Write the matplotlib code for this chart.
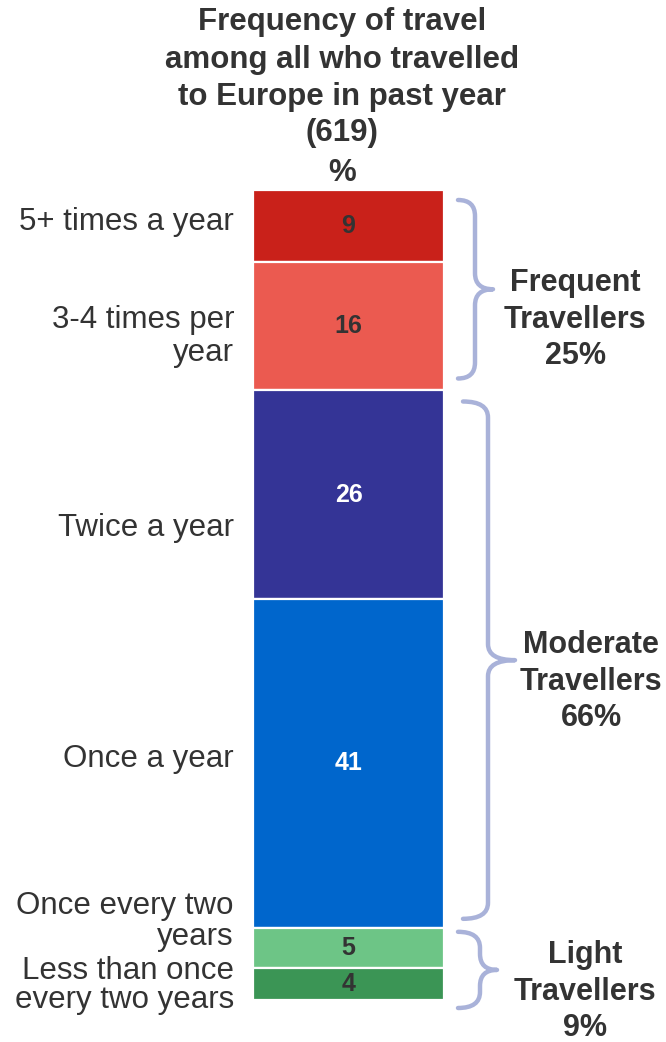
import matplotlib
matplotlib.use("Agg")
import matplotlib.pyplot as plt
import numpy as np
from matplotlib.path import Path
from matplotlib.patches import PathPatch

# ---- data -------------------------------------------------------------
categories = ["5+ times a year", "3-4 times per\nyear", "Twice a year",
              "Once a year", "Once every two\nyears",
              "Less than once\nevery two years"]
values = [9, 16, 26, 41, 5, 4]
segment_colors = ["#C9211A", "#EB5A50", "#343496", "#0066CC", "#6DC586", "#3B9555"]
value_colors = ["#333333", "#333333", "#FFFFFF", "#FFFFFF", "#333333", "#333333"]

group_names = ["Frequent\nTravellers", "Moderate\nTravellers", "Light\nTravellers"]
group_totals = [25, 66, 9]
group_members = [(0, 1), (2, 3), (4, 5)]

title_lines = ["Frequency of travel", "among all who travelled",
               "to Europe in past year", "(619)", "%"]

# ---- layout (pixels, y measured from the top) -----------------------------
W, H, DPI = 666, 1042, 100
TEXT = "#333333"
BRACE = "#A9B2D9"
FONT = "Liberation Sans"

title_x = 342
title_baselines = [30, 68, 105, 141, 181]

label_right = 234
label_baselines = [230, 328, 536, 767, 914, 979]
label_steps = [0, 33, 0, 0, 31, 29]

group_x = [575, 591, 585]
group_baselines = [291, 653, 963]
group_step = 36.5

brace_x_end = [458, 463, 458]
brace_x_mid = [475, 488, 480]
brace_x_tip = [493, 515, 497]
brace_pad = [(10, -12), (11, -9), (4, 8)]

fig = plt.figure(figsize=(W / DPI, H / DPI), dpi=DPI)
fig.patch.set_facecolor("white")

# overlay axes in pixel units for annotations
ov = fig.add_axes([0, 0, 1, 1])
ov.set_xlim(0, W)
ov.set_ylim(H, 0)
ov.axis("off")

# the single stacked bar
ax = fig.add_axes([253 / W, 42 / H, 191 / W, 810 / H])
total = sum(values)
ax.set_xlim(0, 1)
ax.set_ylim(total, 0)
ax.axis("off")
bottoms = np.concatenate([[0], np.cumsum(values)[:-1]])
ax.bar(0.5, values, bottom=bottoms, width=1.0, color=segment_colors,
       edgecolor="white", linewidth=1.6)
for v, b, c in zip(values, bottoms, value_colors):
    ax.text(0.5, b + v / 2, f"{v}", ha="center", va="center",
            fontsize=18, fontweight="bold", color=c, family=FONT)


def to_px(y):
    """Data y of the bar axes -> pixel row in the overlay."""
    return H - ax.transData.transform((0, y))[1]


# title
for line, yb in zip(title_lines, title_baselines):
    ov.text(title_x, yb, line, ha="center", va="baseline", fontsize=22.5,
            fontweight="bold", color=TEXT, family=FONT)

# category labels to the left of the bar
for lab, yb, step in zip(categories, label_baselines, label_steps):
    for i, line in enumerate(lab.split("\n")):
        ov.text(label_right, yb + i * step, line, ha="right", va="baseline",
                fontsize=22.5, color=TEXT, family=FONT)


def brace_path(x0, xv, xt, y0, y1, r=16, rc=16):
    ym = (y0 + y1) / 2
    verts = [(x0, y0), (xv, y0), (xv, y0 + r),
             (xv, ym - rc), (xv, ym), (xt, ym),
             (xv, ym), (xv, ym + rc),
             (xv, y1 - r), (xv, y1), (x0, y1)]
    codes = [Path.MOVETO, Path.CURVE3, Path.CURVE3,
             Path.LINETO, Path.CURVE3, Path.CURVE3,
             Path.CURVE3, Path.CURVE3,
             Path.LINETO, Path.CURVE3, Path.CURVE3]
    return Path(verts, codes)


# group braces and labels on the right
for k, (start, end) in enumerate(group_members):
    y0 = to_px(bottoms[start]) + brace_pad[k][0]
    y1 = to_px(bottoms[end] + values[end]) + brace_pad[k][1]
    p = brace_path(brace_x_end[k], brace_x_mid[k], brace_x_tip[k], y0, y1)
    ov.add_patch(PathPatch(p, facecolor="none", edgecolor=BRACE, lw=3.2,
                           capstyle="round", joinstyle="round"))
    lines = group_names[k].split("\n") + [f"{group_totals[k]}%"]
    for i, line in enumerate(lines):
        ov.text(group_x[k], group_baselines[k] + i * group_step, line,
                ha="center", va="baseline", fontsize=22, fontweight="bold",
                color=TEXT, family=FONT)

fig.savefig("out.png", dpi=DPI, facecolor="white")
